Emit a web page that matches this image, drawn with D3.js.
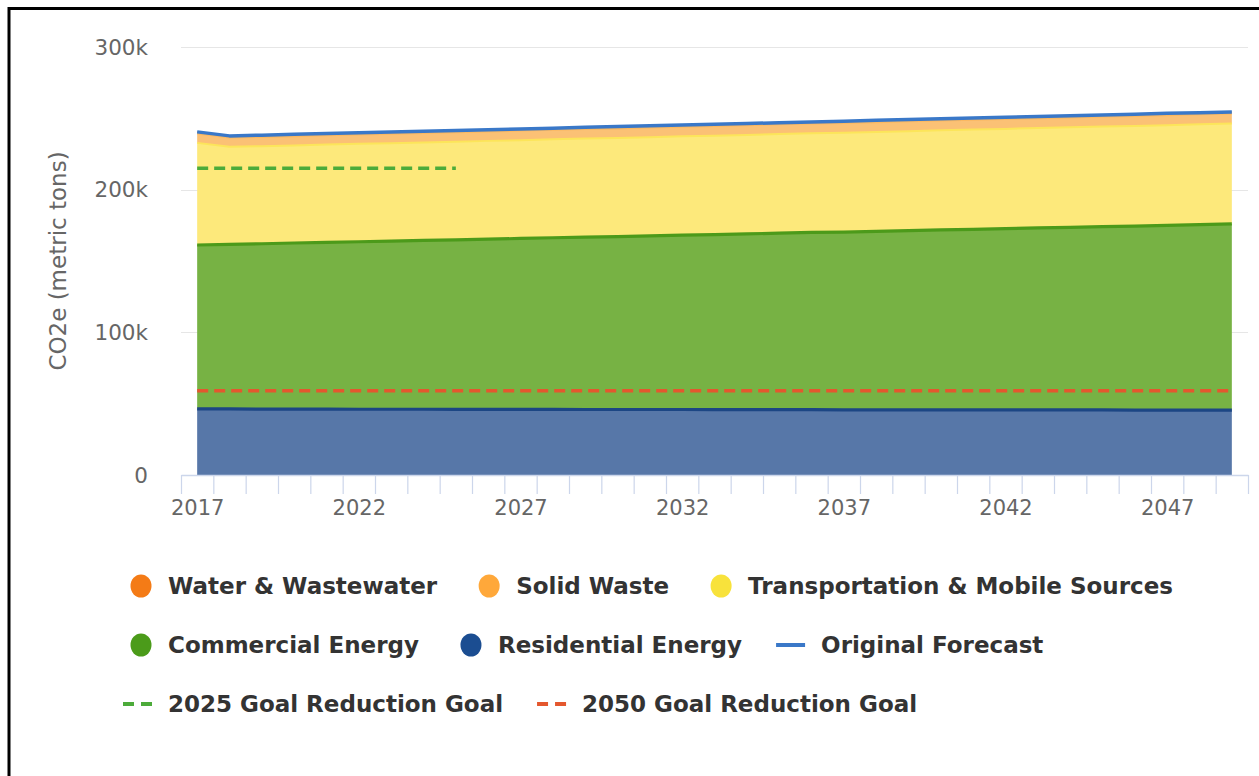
<!DOCTYPE html>
<html><head><meta charset="utf-8">
<script src="https://cdn.jsdelivr.net/npm/d3@7"></script>
<style>body{margin:0;background:#fff;} svg{display:block;}</style>
</head><body><svg id="chart" width="1259" height="776"></svg>
<script>
// ---- Data (values in thousand metric tons CO2e) ----
const years = [2017,2018,2019,2020,2021,2022,2023,2024,2025,2026,2027,2028,2029,2030,2031,2032,2033,2034,2035,2036,2037,2038,2039,2040,2041,2042,2043,2044,2045,2046,2047,2048,2049];
const residential = [46.3,46.3,46.2,46.2,46.2,46.1,46.1,46.1,46.0,46.0,46.0,46.0,45.9,45.9,45.9,45.9,45.8,45.8,45.8,45.8,45.7,45.7,45.7,45.7,45.6,45.6,45.6,45.6,45.6,45.5,45.5,45.5,45.5];
const commercial = [114.9,115.4,115.9,116.4,116.9,117.4,117.8,118.3,118.8,119.3,119.8,120.3,120.8,121.2,121.7,122.2,122.7,123.2,123.7,124.2,124.6,125.1,125.6,126.1,126.6,127.1,127.6,128.0,128.5,129.0,129.5,130.0,130.5];
const transportation = [71.6,68.3,68.4,68.4,68.5,68.6,68.7,68.7,68.8,68.9,68.9,69.0,69.1,69.1,69.2,69.3,69.3,69.4,69.5,69.5,69.6,69.7,69.7,69.8,69.9,69.9,70.0,70.1,70.1,70.2,70.2,70.3,70.3];
const solidWaste = [6.5,6.5,6.5,6.5,6.6,6.6,6.6,6.6,6.6,6.6,6.7,6.7,6.7,6.7,6.7,6.7,6.8,6.8,6.8,6.8,6.8,6.8,6.9,6.9,6.9,6.9,6.9,6.9,7.0,7.0,7.0,7.0,7.0];
const water = [1.2,1.2,1.2,1.2,1.2,1.2,1.2,1.2,1.2,1.2,1.2,1.2,1.2,1.2,1.2,1.2,1.2,1.2,1.2,1.2,1.2,1.2,1.2,1.2,1.2,1.2,1.2,1.2,1.2,1.2,1.2,1.2,1.2];
const originalForecast = [240.5,237.7,238.2,238.8,239.3,239.9,240.4,241.0,241.5,242.0,242.6,243.1,243.7,244.2,244.8,245.3,245.9,246.4,246.9,247.5,248.0,248.6,249.1,249.7,250.2,250.8,251.3,251.8,252.4,252.9,253.5,254.0,254.5];
const goal2025Years = [2017, 2025];
const goal2025Values = [215, 215];
const goal2050Years = [2017, 2049];
const goal2050Values = [59, 59];
const yTickValues = [0, 100, 200, 300];
const yTickLabels = ["0", "100k", "200k", "300k"];
const xLabelYears = [2017, 2022, 2027, 2032, 2037, 2042, 2047];
const seriesNames = ["Water & Wastewater","Solid Waste","Transportation & Mobile Sources","Commercial Energy","Residential Energy","Original Forecast","2025 Goal Reduction Goal","2050 Goal Reduction Goal"];
const yAxisTitle = "CO2e (metric tons)";

// ---- Styles ----
const symbolColors = ["#f47b16","#ffa83a","#f8e23b","#4b9b1a","#1b4d91","#3a78c8","#4cab3a","#e4572e"];
const fillColors = {water:"#f9b068", solidWaste:"#fbc175", transportation:"#fde97b", commercial:"#77b244", residential:"#5777a8"};
const lineColors = {water:"#f8a65a", solidWaste:"#fbb860", transportation:"#fce55a", commercial:"#4c9a1a", residential:"#1c4684"};
const lineWidths = {water:1.5, solidWaste:2, transportation:2, commercial:3.2, residential:3.2};

const svg = d3.select("#chart");
const W = 1259, H = 776;
const plot = {left:181, right:1248, top:47, bottom:475};

// border (top & left visible)
svg.append("line").attr("x1",9).attr("x2",W).attr("y1",8.5).attr("y2",8.5).attr("stroke","#000").attr("stroke-width",3);
svg.append("line").attr("x1",9).attr("x2",9).attr("y1",7).attr("y2",H).attr("stroke","#000").attr("stroke-width",3);

const x = d3.scaleLinear().domain([years[0]-0.5, years[years.length-1]+0.5]).range([plot.left, plot.right]);
const y = d3.scaleLinear().domain([0, 300]).range([plot.bottom, plot.top]);

// grid lines
svg.append("g").selectAll("line").data(yTickValues.filter(v=>v>0)).join("line")
  .attr("x1", plot.left).attr("x2", plot.right)
  .attr("y1", d=>Math.round(y(d))+0.5).attr("y2", d=>Math.round(y(d))+0.5)
  .attr("stroke", "#e6e6e6").attr("stroke-width", 1);

// y labels
const fontReg = "'DejaVu Sans', Verdana, sans-serif";
svg.append("g").selectAll("text").data(yTickValues).join("text")
  .attr("x", 148).attr("y", d=>y(d)).attr("dy","0.36em")
  .attr("text-anchor","end").attr("fill","#666").style("font-family",fontReg).style("font-size","21.5px")
  .text((d,i)=>yTickLabels[i]);

// y title
svg.append("text").attr("transform", `translate(66,${(plot.top+plot.bottom)/2}) rotate(-90)`)
  .attr("text-anchor","middle").attr("fill","#666").style("font-family",fontReg).style("font-size","23px")
  .text(yAxisTitle);

// stacked areas
const keys = ["residential","commercial","transportation","solidWaste","water"];
const src = {residential, commercial, transportation, solidWaste, water};
const rows = years.map((yr,i)=>{ const o={year:yr}; keys.forEach(k=>o[k]=src[k][i]); return o; });
const stacked = d3.stack().keys(keys)(rows);
const area = d3.area().x(d=>x(d.data.year)).y0(d=>y(d[0])).y1(d=>y(d[1]));
const topLine = d3.line().x(d=>x(d.data.year)).y(d=>y(d[1]));
// Highcharts draws first series (top of stack) first
const drawOrder = stacked.slice().reverse();
const gAreas = svg.append("g");
drawOrder.forEach(layer=>{
  gAreas.append("path").datum(layer).attr("d", area).attr("fill", fillColors[layer.key]);
  gAreas.append("path").datum(layer).attr("d", topLine).attr("fill","none")
    .attr("stroke", lineColors[layer.key]).attr("stroke-width", lineWidths[layer.key]).attr("stroke-linejoin","round");
});

// x axis line and ticks
const boundaries = years.map(v=>v-0.5).concat([years[years.length-1]+0.5]);
const gx = svg.append("g").attr("transform", `translate(0,${plot.bottom})`)
  .call(d3.axisBottom(x).tickValues(boundaries).tickSize(19).tickFormat("").tickSizeOuter(0));
gx.select(".domain").attr("stroke","#ccd6eb").attr("stroke-width",1.5);
gx.selectAll(".tick line").attr("stroke","#ccd6eb").attr("stroke-width",1.2);
const gxl = svg.append("g").attr("transform", `translate(0,${plot.bottom})`)
  .call(d3.axisBottom(x).tickValues(xLabelYears).tickSize(0).tickPadding(0).tickFormat(d3.format("d")));
gxl.select(".domain").remove();
gxl.selectAll("text").attr("y", 40).attr("dy", 0).attr("fill","#666").style("font-family",fontReg).style("font-size","21px");

// original forecast line
svg.append("path").datum(originalForecast).attr("fill","none").attr("stroke",symbolColors[5]).attr("stroke-width",3.5)
  .attr("stroke-linejoin","round")
  .attr("d", d3.line().x((d,i)=>x(years[i])).y(d=>y(d)));

// goal lines
const goalLine = d3.line().x(d=>x(d[0])).y(d=>y(d[1]));
svg.append("path").datum(goal2025Years.map((yr,i)=>[yr,goal2025Values[i]]))
  .attr("d", goalLine).attr("fill","none").attr("stroke",symbolColors[6]).attr("stroke-width",3.5).attr("stroke-dasharray","11,6");
svg.append("path").datum(goal2050Years.map((yr,i)=>[yr,goal2050Values[i]]))
  .attr("d", goalLine).attr("fill","none").attr("stroke",symbolColors[7]).attr("stroke-width",3.5).attr("stroke-dasharray","11,6");

// legend
const symbolTypes = ["circle","circle","circle","circle","circle","line","dash","dash"];
const legendRows = [[0,1,2],[3,4,5],[6,7]];
const rowY = [586, 645, 704];
const legendStartX = 168, itemGap = 79;
const gLeg = svg.append("g");
legendRows.forEach((row,ri)=>{
  let tx = legendStartX;
  row.forEach(idx=>{
    const cy = rowY[ri];
    const t = symbolTypes[idx];
    if (t === "circle") {
      gLeg.append("ellipse").attr("cx", tx-27).attr("cy", cy).attr("rx", 10.5).attr("ry", 11.5).attr("fill", symbolColors[idx]);
    } else {
      gLeg.append("line").attr("x1", tx-45).attr("x2", tx-16).attr("y1", cy).attr("y2", cy)
        .attr("stroke", symbolColors[idx]).attr("stroke-width", 4)
        .attr("stroke-dasharray", t === "dash" ? "11,7" : null);
    }
    const txt = gLeg.append("text").attr("x", tx).attr("y", cy).attr("dy","0.36em")
      .attr("fill","#333").style("font-family",fontReg).style("font-weight","bold").style("font-size","23px")
      .text(seriesNames[idx]);
    tx += txt.node().getComputedTextLength() + itemGap;
  });
});
</script></body></html>
